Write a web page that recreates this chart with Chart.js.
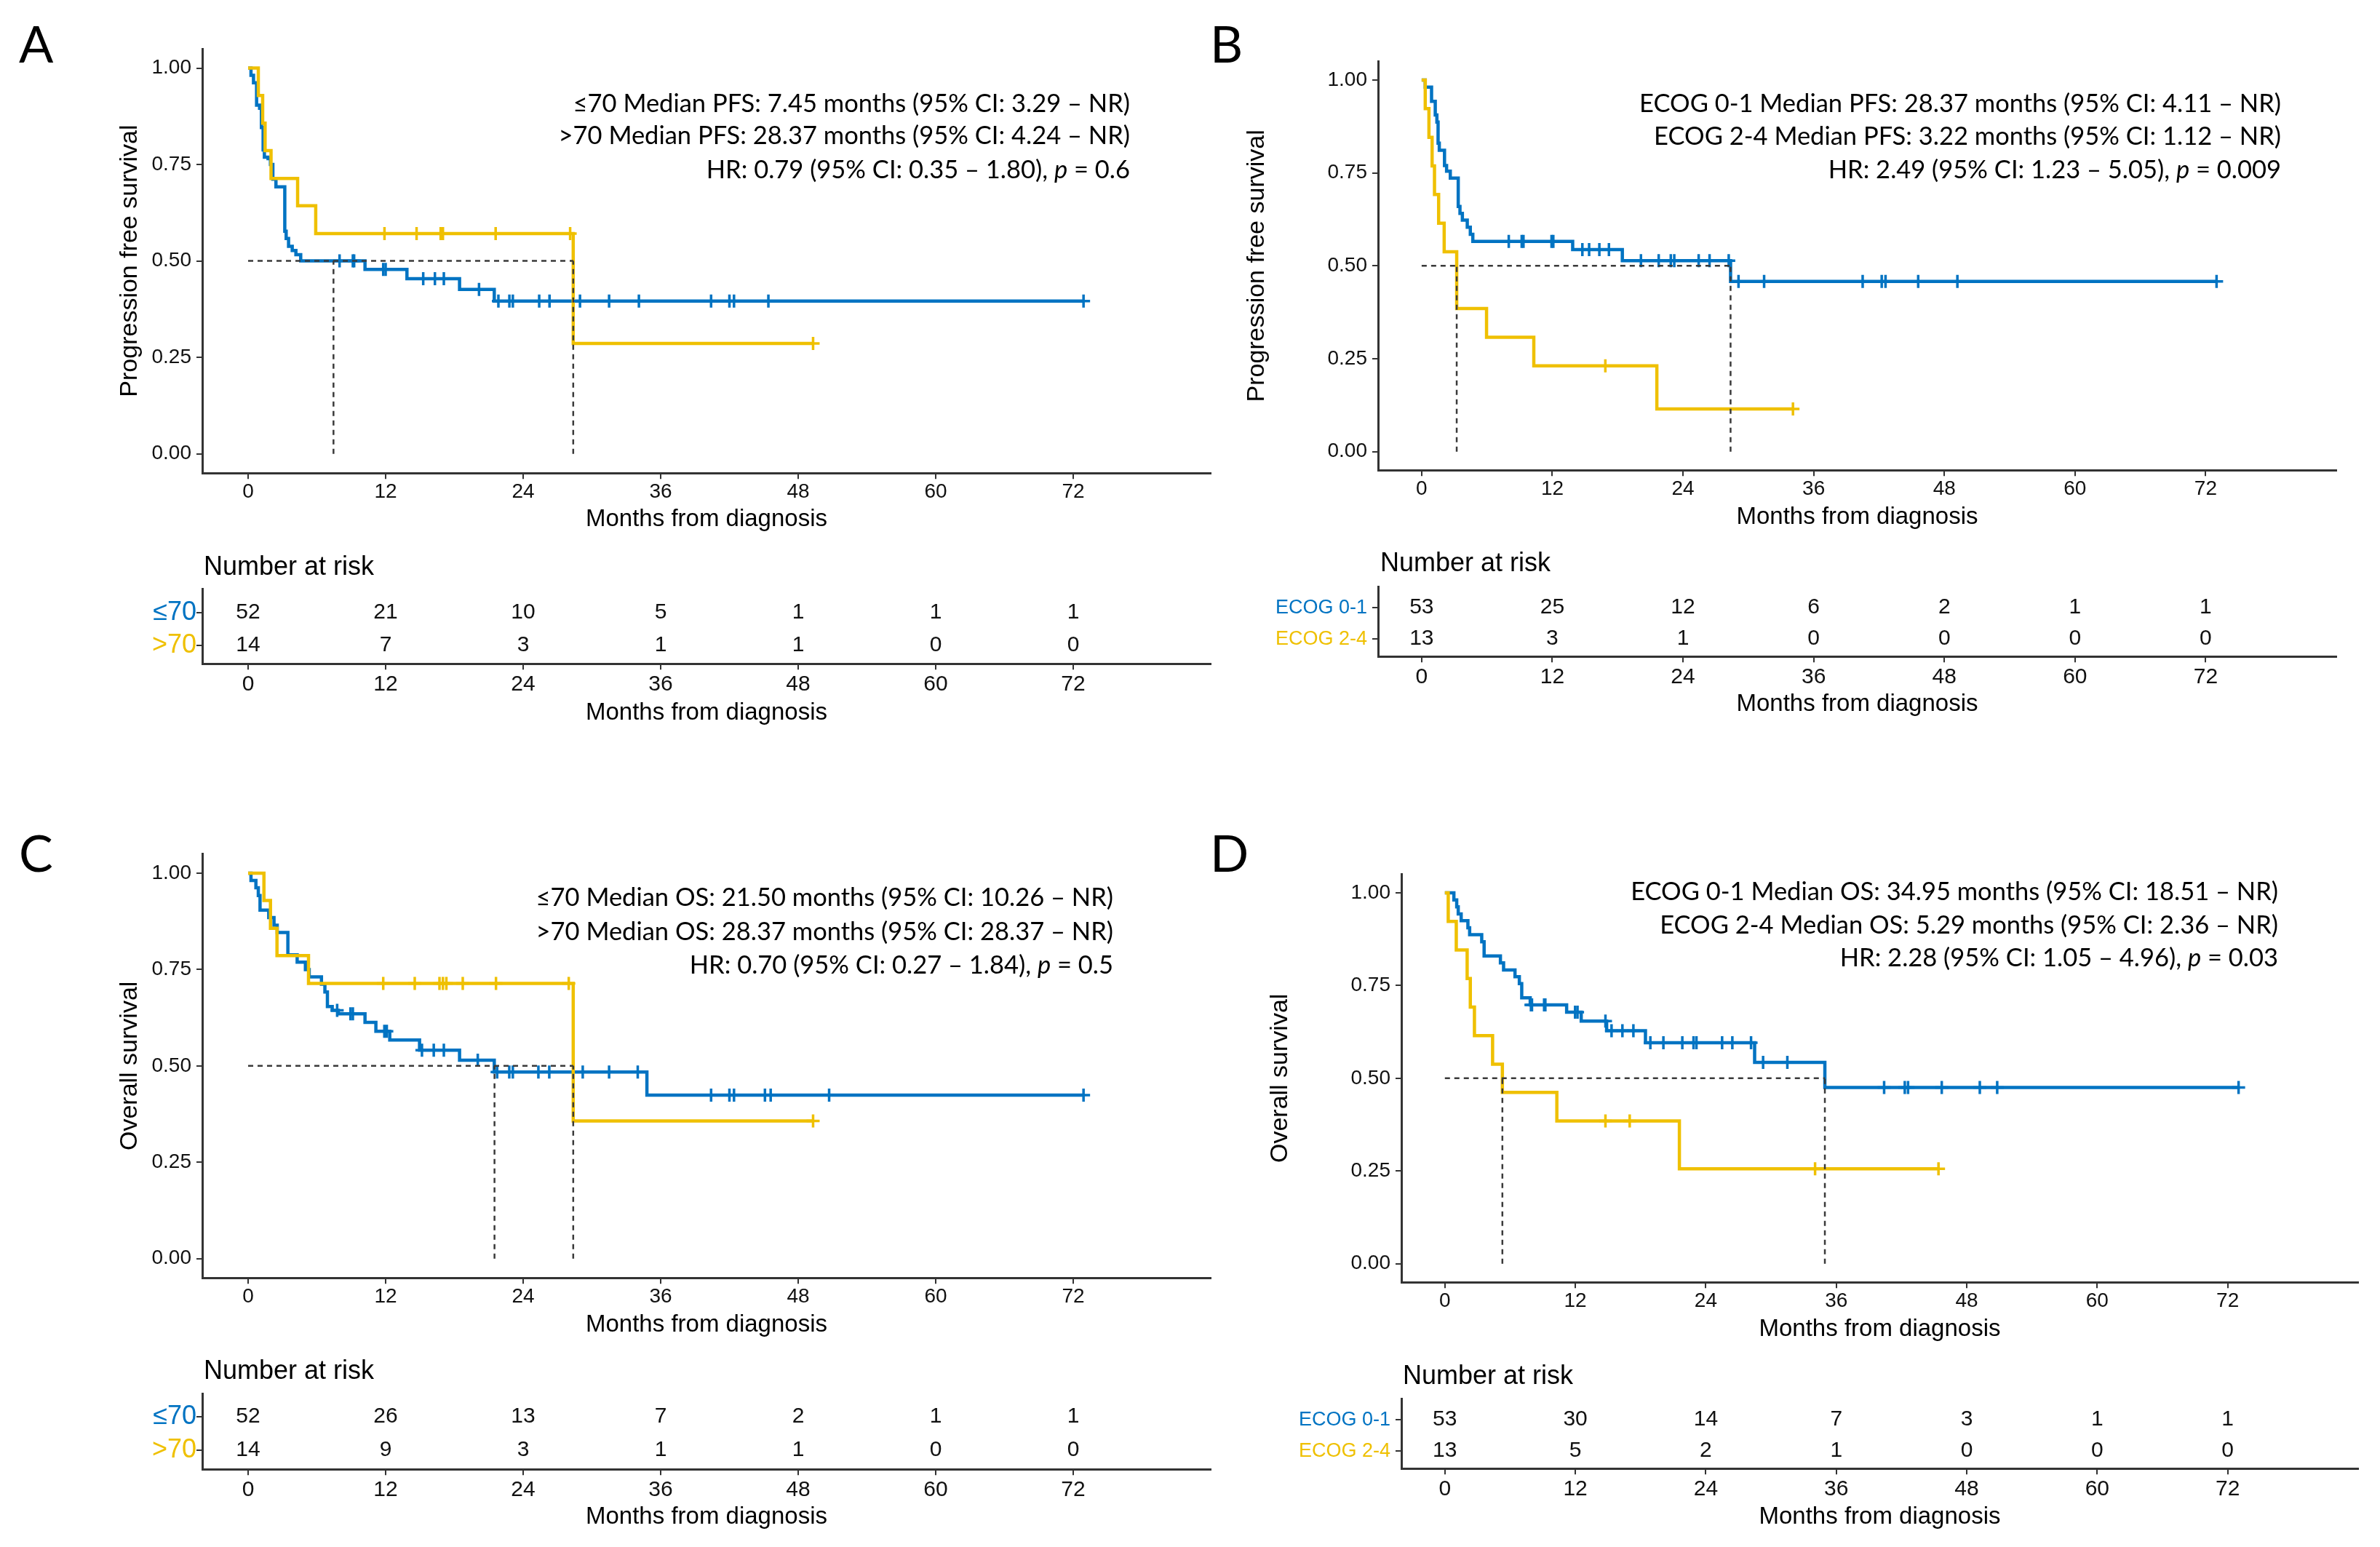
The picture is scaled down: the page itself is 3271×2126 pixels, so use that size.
<!DOCTYPE html>
<html><head><meta charset="utf-8">
<script src="https://cdn.jsdelivr.net/npm/chart.js@4.4.1/dist/chart.umd.min.js"></script>
<style>
html,body{margin:0;padding:0;background:#fff}
body{width:3271px;height:2126px;position:relative;overflow:hidden;font-family:'Liberation Sans',Arial,sans-serif}
canvas{position:absolute}
.lbl{position:absolute;white-space:nowrap;color:#000}
.ann{font-family:Lato,'Open Sans',sans-serif;font-size:34.5px;line-height:40px;text-align:right}
.letter{font-family:Lato,'Open Sans',sans-serif;font-size:70px;line-height:70px}
.nar{font-family:'Liberation Sans',Arial,sans-serif;font-size:36px;line-height:40px}
</style></head><body>
<script>
// ---------------- DATA ----------------
const xTicks = [0, 12, 24, 36, 48, 60, 72];
const yTicks = [0, 0.25, 0.5, 0.75, 1];
const riskTimes = [0, 12, 24, 36, 48, 60, 72];
const medianLevel = 0.5;

// Panel A: PFS by age
const aBlueT = [0, 0.25, 0.47, 0.74, 1.0, 1.16, 1.31, 1.42, 1.74, 1.95, 2.16, 2.43, 3.2, 3.32, 3.53, 3.85, 4.17, 4.59, 10.2, 13.86, 18.45, 21.48, 72.9];
const aBlueS = [1, 0.981, 0.962, 0.904, 0.896, 0.846, 0.788, 0.769, 0.765, 0.75, 0.712, 0.692, 0.577, 0.558, 0.538, 0.527, 0.516, 0.5, 0.478, 0.454, 0.426, 0.396, 0.396];
const aBlueCens = [7.98, 9.14, 9.25, 11.79, 12.0, 15.28, 16.3, 17.08, 20.15, 21.84, 22.8, 23.1, 25.4, 26.3, 28.96, 31.5, 34.1, 40.4, 42.0, 42.4, 45.4, 72.9];
const aYelT = [0, 0.89, 1.27, 1.48, 2.0, 4.32, 5.9, 28.37, 49.3];
const aYelS = [1, 0.929, 0.857, 0.786, 0.714, 0.643, 0.571, 0.286, 0.286];
const aYelCens = [11.9, 14.7, 16.8, 17.0, 21.6, 28.1, 49.3];
const aMedians = [7.45, 28.37];
const aRiskBlue = [52, 21, 10, 5, 1, 1, 1];
const aRiskYel = [14, 7, 3, 1, 1, 0, 0];
const aRowLabels = ['≤70', '>70'];
const aAnnot = ['≤70 Median PFS: 7.45 months (95% CI: 3.29 – NR)', '>70 Median PFS: 28.37 months (95% CI: 4.24 – NR)', 'HR: 0.79 (95% CI: 0.35 – 1.80), <i>p</i> = 0.6'];

// Panel B: PFS by ECOG
const bBlueT = [0, 0.33, 0.91, 1.25, 1.4, 1.51, 1.62, 2.1, 2.29, 2.63, 3.36, 3.52, 3.74, 4.19, 4.47, 4.7, 13.87, 18.43, 28.37, 73.0];
const bBlueS = [1, 0.981, 0.943, 0.906, 0.887, 0.830, 0.811, 0.770, 0.755, 0.736, 0.660, 0.641, 0.623, 0.604, 0.585, 0.566, 0.544, 0.514, 0.458, 0.458];
const bBlueCens = [8.0, 9.19, 9.35, 11.93, 12.09, 14.76, 15.38, 16.32, 17.2, 20.14, 21.77, 22.88, 23.2, 25.44, 26.44, 28.2, 29.1, 31.45, 40.5, 42.25, 42.6, 45.6, 49.2, 73.0];
const bYelT = [0, 0.33, 0.67, 0.96, 1.18, 1.56, 2.07, 3.22, 5.96, 10.3, 21.6, 34.1];
const bYelS = [1, 0.923, 0.846, 0.769, 0.692, 0.615, 0.538, 0.385, 0.308, 0.231, 0.115, 0.115];
const bYelCens = [16.87, 34.1];
const bMedians = [28.37, 3.22];
const bRiskBlue = [53, 25, 12, 6, 2, 1, 1];
const bRiskYel = [13, 3, 1, 0, 0, 0, 0];
const bRowLabels = ['ECOG 0-1', 'ECOG 2-4'];
const bAnnot = ['ECOG 0-1 Median PFS: 28.37 months (95% CI: 4.11 – NR)', 'ECOG 2-4 Median PFS: 3.22 months (95% CI: 1.12 – NR)', 'HR: 2.49 (95% CI: 1.23 – 5.05), <i>p</i> = 0.009'];

// Panel C: OS by age
const cBlueT = [0, 0.25, 0.68, 0.89, 1.04, 1.8, 2.26, 2.54, 3.47, 4.28, 5.0, 5.33, 6.4, 6.7, 6.92, 7.34, 7.87, 10.2, 11.15, 12.36, 14.96, 18.45, 21.48, 34.8, 72.9];
const cBlueS = [1, 0.981, 0.962, 0.942, 0.904, 0.885, 0.865, 0.846, 0.788, 0.769, 0.75, 0.731, 0.712, 0.692, 0.654, 0.644, 0.635, 0.613, 0.590, 0.567, 0.541, 0.515, 0.484, 0.424, 0.424];
const cBlueCens = [7.77, 8.93, 9.14, 11.89, 12.1, 15.17, 16.2, 17.08, 20.04, 21.73, 22.79, 23.1, 25.33, 26.28, 29.2, 31.5, 34.0, 40.4, 42.0, 42.4, 45.1, 45.6, 50.7, 72.9];
const cYelT = [0, 1.38, 1.95, 2.52, 5.27, 28.37, 49.3];
const cYelS = [1, 0.929, 0.857, 0.786, 0.714, 0.357, 0.357];
const cYelCens = [11.79, 14.54, 16.7, 17.0, 17.3, 18.73, 21.63, 27.98, 49.3];
const cMedians = [21.5, 28.37];
const cRiskBlue = [52, 26, 13, 7, 2, 1, 1];
const cRiskYel = [14, 9, 3, 1, 1, 0, 0];
const cRowLabels = ['≤70', '>70'];
const cAnnot = ['≤70 Median OS: 21.50 months (95% CI: 10.26 – NR)', '>70 Median OS: 28.37 months (95% CI: 28.37 – NR)', 'HR: 0.70 (95% CI: 0.27 – 1.84), <i>p</i> = 0.5'];

// Panel D: OS by ECOG
const dBlueT = [0, 0.83, 1.09, 1.23, 1.5, 2.12, 2.28, 3.39, 3.61, 5.11, 5.4, 6.45, 6.85, 7.07, 7.85, 11.2, 12.54, 14.88, 18.45, 28.49, 34.95, 73.0];
const dBlueS = [1, 0.981, 0.962, 0.943, 0.925, 0.906, 0.887, 0.868, 0.830, 0.811, 0.792, 0.774, 0.755, 0.717, 0.698, 0.678, 0.654, 0.628, 0.596, 0.543, 0.475, 0.475];
const dBlueCens = [7.92, 8.01, 9.13, 9.24, 11.98, 12.2, 14.77, 15.33, 16.33, 17.34, 18.9, 20.1, 21.84, 22.87, 23.14, 25.5, 26.44, 28.16, 29.27, 31.5, 40.4, 42.3, 42.6, 45.7, 49.2, 50.8, 73.0];
const dYelT = [0, 0.31, 1.05, 2.05, 2.34, 2.72, 4.39, 5.29, 10.3, 21.57, 45.4];
const dYelS = [1, 0.923, 0.846, 0.769, 0.692, 0.615, 0.538, 0.462, 0.385, 0.256, 0.256];
const dYelCens = [14.77, 17.0, 34.05, 45.4];
const dMedians = [34.95, 5.29];
const dRiskBlue = [53, 30, 14, 7, 3, 1, 1];
const dRiskYel = [13, 5, 2, 1, 0, 0, 0];
const dRowLabels = ['ECOG 0-1', 'ECOG 2-4'];
const dAnnot = ['ECOG 0-1 Median OS: 34.95 months (95% CI: 18.51 – NR)', 'ECOG 2-4 Median OS: 5.29 months (95% CI: 2.36 – NR)', 'HR: 2.28 (95% CI: 1.05 – 4.96), <i>p</i> = 0.03'];

// ---------------- STYLE / LAYOUT ----------------
const BLUE = '#0073C2', YEL = '#EFC000', AXIS = '#333333', DASH = '#3a3a3a';
const FONT = "'Liberation Sans', Arial, Helvetica, sans-serif";
Chart.defaults.font.family = FONT;
Chart.defaults.color = '#000';

const panels = [
  {letter:'A', ytitle:'Progression free survival',
   d:{bT:aBlueT,bS:aBlueS,bC:aBlueCens,yT:aYelT,yS:aYelS,yC:aYelCens,med:aMedians,rB:aRiskBlue,rY:aRiskYel,rows:aRowLabels,ann:aAnnot},
   main:{L:278,R:1664,T:67,B:650,ytx:178,xtc:714}, risk:{L:278,R:1664,T:809,B:912,ymin:0.444,ymax:2.733,xtc:980},
   ann:{right:1553,ys:[143,187,234]}, let:{x:26,base:86}, nar:{x:280,y:778}, rowFont:36, rowPad:0},
  {letter:'B', ytitle:'Progression free survival',
   d:{bT:bBlueT,bS:bBlueS,bC:bBlueCens,yT:bYelT,yS:bYelS,yC:bYelCens,med:bMedians,rB:bRiskBlue,rY:bRiskYel,rows:bRowLabels,ann:bAnnot},
   main:{L:1894,R:3211,T:84.5,B:646,ytx:1727,xtc:711}, risk:{L:1894,R:3211,T:806,B:902,ymin:0.442,ymax:2.674,xtc:968},
   ann:{right:3135,ys:[143,187.5,234]}, let:{x:1663,base:86}, nar:{x:1897,y:773}, rowFont:27, rowPad:7},
  {letter:'C', ytitle:'Overall survival',
   d:{bT:cBlueT,bS:cBlueS,bC:cBlueCens,yT:cYelT,yS:cYelS,yC:cYelCens,med:cMedians,rB:cRiskBlue,rY:cRiskYel,rows:cRowLabels,ann:cAnnot},
   main:{L:278,R:1664,T:1173.5,B:1756,ytx:178,xtc:1821}, risk:{L:278,R:1664,T:1915,B:2019,ymin:0.435,ymax:2.696,xtc:2085},
   ann:{right:1530,ys:[1234,1281,1327]}, let:{x:26,base:1198}, nar:{x:280,y:1883}, rowFont:36, rowPad:0},
  {letter:'D', ytitle:'Overall survival',
   d:{bT:dBlueT,bS:dBlueS,bC:dBlueCens,yT:dYelT,yS:dYelS,yC:dYelCens,med:dMedians,rB:dRiskBlue,rY:dRiskYel,rows:dRowLabels,ann:dAnnot},
   main:{L:1926,R:3241,T:1201.5,B:1762,ytx:1759,xtc:1827}, risk:{L:1926,R:3241,T:1922,B:2018,ymin:0.442,ymax:2.674,xtc:2085},
   ann:{right:3131,ys:[1226,1272,1317]}, let:{x:1663,base:1198}, nar:{x:1928,y:1890}, rowFont:27, rowPad:7}
];

// ---------------- HELPERS ----------------
function stepData(t, s) { return t.map((x, i) => ({x: x, y: s[i]})); }
function survAt(t, s, time) { let v = s[0]; for (let i = 0; i < t.length; i++) { if (t[i] <= time) v = s[i]; } return v; }
function censData(t, s, c) { return c.map(x => ({x: x, y: survAt(t, s, x)})); }

function addDiv(cls, html, style) {
  const el = document.createElement('div');
  el.className = 'lbl ' + cls; el.innerHTML = html;
  Object.assign(el.style, style);
  document.body.appendChild(el);
  return el;
}
function makeCanvas(left, top, w, h) {
  const cv = document.createElement('canvas');
  cv.width = w; cv.height = h;
  cv.style.left = left + 'px'; cv.style.top = top + 'px';
  cv.style.width = w + 'px'; cv.style.height = h + 'px';
  document.body.appendChild(cv);
  return cv;
}
function xScale(tickSize, tickPad, hX) {
  return {
    type: 'linear', min: -4, max: 84,
    afterBuildTicks: s => { s.ticks = xTicks.map(v => ({value: v})); },
    ticks: {font: {size: tickSize}, color: '#111', padding: tickPad, autoSkip: false, maxRotation: 0},
    grid: {display: true, drawOnChartArea: false, drawTicks: true, tickLength: 8, color: AXIS, lineWidth: 2},
    border: {display: true, color: AXIS, width: 3},
    title: {display: true, text: 'Months from diagnosis', font: {size: 33}, color: '#000', padding: 0},
    afterFit: s => { s.height = hX; }
  };
}

function makeMain(p) {
  const m = p.main, d = p.d;
  const lhT = 34 * 1.2, lhX = 33 * 1.2;
  const left = Math.round(m.ytx - lhT / 2);
  const top = Math.round(m.T - 30);
  const padTop = m.T - top;
  const hX = m.xtc - m.B + lhX / 2;
  const W = Math.round(m.R + 20 - left);
  const H = Math.round(m.B + hX - top);
  const padRight = left + W - m.R;
  const wY = m.L - left;
  const cv = makeCanvas(left, top, W, H);
  const medMax = Math.max(...d.med);
  const dashStyle = {borderColor: DASH, borderWidth: 2.5, borderDash: [7, 6], pointRadius: 0, fill: false};
  const ds = [];
  ds.push(Object.assign({data: [{x: 0, y: medianLevel}, {x: medMax, y: medianLevel}]}, dashStyle));
  d.med.forEach(mv => ds.push(Object.assign({data: [{x: mv, y: 0}, {x: mv, y: medianLevel}]}, dashStyle)));
  const censStyle = {showLine: false, pointStyle: 'cross', pointRadius: 9, pointHoverRadius: 9, pointBorderWidth: 3.5};
  ds.push(Object.assign({data: censData(d.yT, d.yS, d.yC), borderColor: YEL, pointBorderColor: YEL}, censStyle));
  ds.push(Object.assign({data: censData(d.bT, d.bS, d.bC), borderColor: BLUE, pointBorderColor: BLUE}, censStyle));
  ds.push({data: stepData(d.yT, d.yS), borderColor: YEL, borderWidth: 4.5, stepped: true, pointRadius: 0, fill: false});
  ds.push({data: stepData(d.bT, d.bS), borderColor: BLUE, borderWidth: 4.5, stepped: true, pointRadius: 0, fill: false});
  new Chart(cv, {
    type: 'line',
    data: {datasets: ds},
    options: {
      responsive: false, animation: false, devicePixelRatio: 1,
      layout: {padding: {top: padTop, right: padRight, left: 0, bottom: 0}},
      plugins: {legend: {display: false}, tooltip: {enabled: false}},
      scales: {
        x: xScale(28, 1, hX),
        y: {
          type: 'linear', min: -0.05, max: 1.05,
          afterBuildTicks: s => { s.ticks = yTicks.map(v => ({value: v})); },
          ticks: {font: {size: 28}, color: '#111', padding: 7, autoSkip: false, callback: v => Number(v).toFixed(2)},
          grid: {display: true, drawOnChartArea: false, drawTicks: true, tickLength: 8, color: AXIS, lineWidth: 2},
          border: {display: true, color: AXIS, width: 3},
          title: {display: true, text: p.ytitle, font: {size: 34}, color: '#000', padding: 0},
          afterFit: s => { s.width = wY; }
        }
      }
    }
  });
}

function riskPlugin(rowsVals) {
  return {
    id: 'riskNumbers',
    afterDraw(chart) {
      const {ctx, scales} = chart;
      ctx.save();
      ctx.font = '30px ' + FONT;
      ctx.fillStyle = '#111';
      ctx.textAlign = 'center';
      ctx.textBaseline = 'middle';
      rowsVals.forEach((vals, ri) => {
        const py = scales.y.getPixelForValue(2 - ri);
        vals.forEach((n, i) => ctx.fillText(String(n), scales.x.getPixelForValue(riskTimes[i]), py));
      });
      ctx.restore();
    }
  };
}

function makeRisk(p) {
  const r = p.risk, d = p.d;
  const lhX = 33 * 1.2;
  const wY = 260;
  const left = Math.round(r.L - wY);
  const top = Math.round(r.T - 30);
  const padTop = r.T - top;
  const hX = r.xtc - r.B + lhX / 2;
  const W = Math.round(r.R + 20 - left);
  const H = Math.round(r.B + hX - top);
  const padRight = left + W - r.R;
  const cv = makeCanvas(left, top, W, H);
  new Chart(cv, {
    type: 'scatter',
    data: {datasets: [{data: []}]},
    options: {
      responsive: false, animation: false, devicePixelRatio: 1,
      layout: {padding: {top: padTop, right: padRight, left: 0, bottom: 0}},
      plugins: {legend: {display: false}, tooltip: {enabled: false}},
      scales: {
        x: xScale(30, 3, hX),
        y: {
          type: 'linear', min: r.ymin, max: r.ymax,
          afterBuildTicks: s => { s.ticks = [{value: 1}, {value: 2}]; },
          ticks: {font: {size: p.rowFont}, padding: p.rowPad, autoSkip: false,
                  color: c => (c.tick && c.tick.value === 2) ? BLUE : YEL,
                  callback: v => (v === 2 ? d.rows[0] : d.rows[1])},
          grid: {display: true, drawOnChartArea: false, drawTicks: true, tickLength: 8, color: AXIS, lineWidth: 2},
          border: {display: true, color: AXIS, width: 3},
          afterFit: s => { s.width = r.L - left; }
        }
      }
    },
    plugins: [riskPlugin([d.rB, d.rY])]
  });
}

// ---------------- BUILD ----------------
panels.forEach(p => {
  makeMain(p);
  makeRisk(p);
  addDiv('letter', p.letter, {left: p.let.x + 'px', top: (p.let.base - 62) + 'px'});
  p.d.ann.forEach((txt, i) => {
    addDiv('ann', txt, {right: (3271 - p.ann.right) + 'px', top: (p.ann.ys[i] - 22) + 'px'});
  });
  addDiv('nar', 'Number at risk', {left: p.nar.x + 'px', top: (p.nar.y - 20) + 'px'});
});
</script>
</body></html>
